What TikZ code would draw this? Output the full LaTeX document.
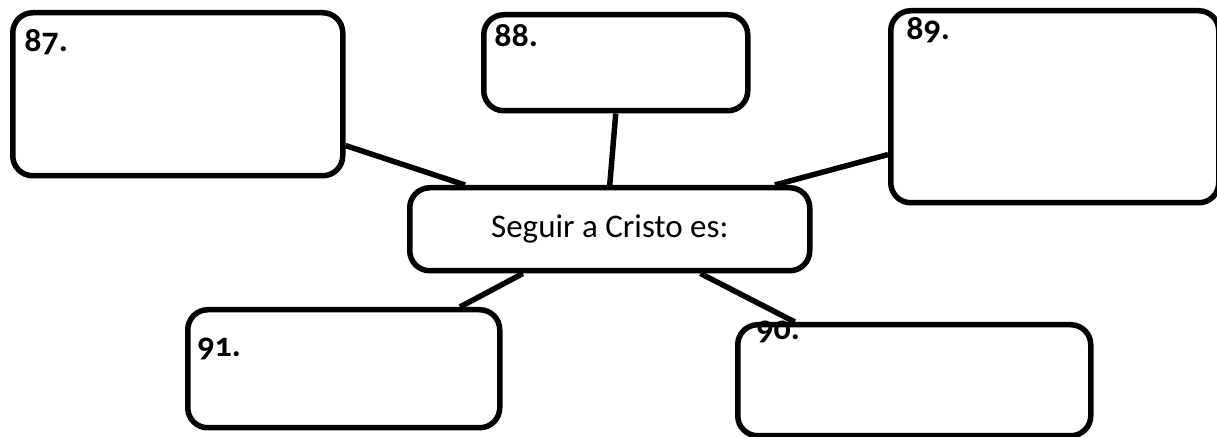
\documentclass[tikz,border=0pt]{standalone}
\usepackage{fontspec}
\setmainfont{Carlito}[Numbers=OldStyle]
\tikzset{
    box/.style={draw, line width=2.75pt, rounded corners=10pt, inner sep=0pt, anchor=north west},
    num/.style={font=\fontsize{17}{20}\selectfont\bfseries, inner sep=0pt, anchor=base west},
    link/.style={line width=2.75pt}
}
\begin{document}
\begin{tikzpicture}[x=0.5pt, y=-0.5pt]

        % Fix the page to the size of the sheet
        \useasboundingbox (0,0) rectangle (1217,437);

        % Central box
        \node[box, minimum width=200pt, minimum height=41.5pt, font=\fontsize{16.5}{20}\selectfont] (center) at (407,185) {Seguir a Cristo es:};

        % Answer boxes around it
        \node[box, minimum width=165pt, minimum height=81.5pt] (b87) at (10,10) {};
        \node[box, minimum width=132pt, minimum height=48pt] (b88) at (481,12) {};
        \node[box, minimum width=164pt, minimum height=96pt] (b89) at (888,8) {};
        \node[box, minimum width=176.5pt, minimum height=55.5pt] (b90) at (735,322) {};
        \node[box, minimum width=156pt, minimum height=59pt] (b91) at (185,307) {};

        % Numbers in the boxes
        \node[num] (n87) at (24,52) {87.};
        \node[num] (n88) at (494,47) {88.};
        \node[num] (n89) at (906,40) {89.};
        \node[num] (n90) at (756,340) {90.};
        \node[num] (n91) at (197,357) {91.};

        % Links from each box to the central box
        \foreach \b/\from/\to in {b87/-17/163, b88/south/90, b89/196/15, b90/154/-26, b91/28/207} {
            \draw[link] (\b.\from) -- (center.\to);
        }

    \end{tikzpicture}
\end{document}
